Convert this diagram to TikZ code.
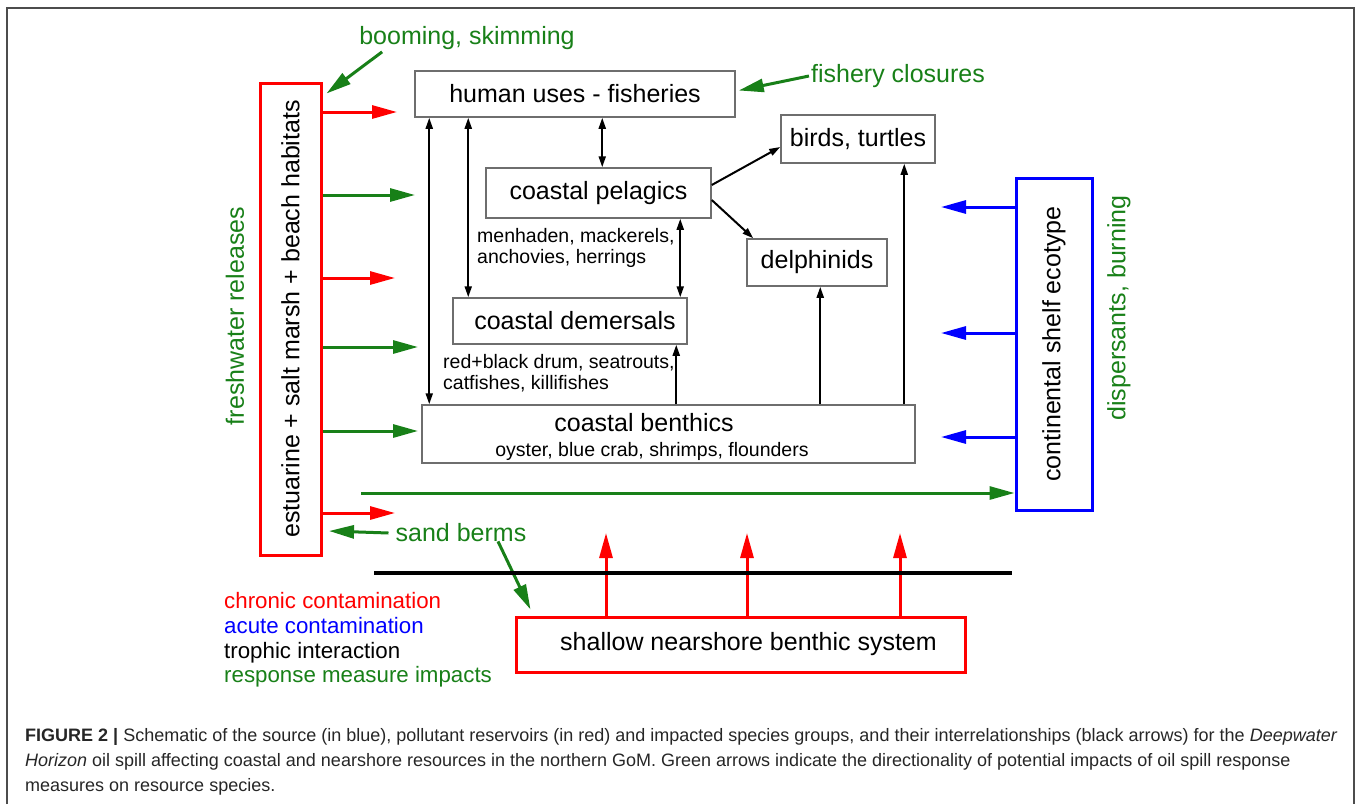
\documentclass[tikz,border=0pt]{standalone}
\usepackage{fontspec}
\setmainfont{Liberation Sans}
\usepackage{graphicx}
\usetikzlibrary{arrows.meta}

\definecolor{impactgreen}{RGB}{24,128,24}
\definecolor{boxgray}{RGB}{110,110,110}

\tikzset{
	>={Triangle[length=11pt,width=7pt]},
	bigfont/.style={font=\fontsize{25}{30}\selectfont},
	species/.style={draw=boxgray, line width=1.5pt, fill=white, inner sep=0pt, bigfont},
	reservoir/.style={draw=red, line width=3pt, inner sep=0pt, bigfont},
	sourcebox/.style={draw=blue, line width=3pt, inner sep=0pt, bigfont},
	spnote/.style={inner sep=0pt, align=left, font=\fontsize{19.5}{21}\selectfont},
	measure/.style={inner sep=2pt, text=impactgreen, bigfont},
	trophic/.style={line width=2pt},
	chronic/.style={draw=red, line width=3pt, -{Triangle[length=25pt,width=13pt]}},
	acute/.style={draw=blue, line width=3pt, -{Triangle[length=25pt,width=13pt]}},
	impact/.style={draw=impactgreen, line width=3pt, -{Triangle[length=25pt,width=13pt]}}
}

\begin{document}
\begin{tikzpicture}[x=1pt,y=-1pt]
		\useasboundingbox (0,0) rectangle (1358,804);
		\draw[black!70, line width=1.5pt] (7,804) |- (1354,8) -- (1354,804);

		% boxes
		\node[reservoir, minimum width=61pt, minimum height=472pt] (hab) at (290.5,319) {\rotatebox{90}{estuarine + salt marsh + beach habitats}};
		\node[sourcebox, minimum width=76pt, minimum height=332pt] (shelf) at (1054,344) {\rotatebox{90}{continental shelf ecotype}};
		\node[reservoir, minimum width=449pt, minimum height=55pt] (shallow) at (740.5,644.5) {\hspace{16pt}shallow nearshore benthic system};
		\node[species, minimum width=320pt, minimum height=46pt] (human) at (575,94) {human uses - fisheries};
		\node[species, minimum width=154pt, minimum height=48pt] (birds) at (858,139) {birds, turtles};
		\node[species, minimum width=225pt, minimum height=50pt] (pelagic) at (598.5,193) {coastal pelagics\hspace{12pt}};
		\node[species, minimum width=140pt, minimum height=47pt] (delph) at (817,262.5) {delphinids};
		\node[species, minimum width=234pt, minimum height=46pt] (demersal) at (570,321) {\hspace{10pt}coastal demersals};
		\node[species, minimum width=493pt, minimum height=58pt] (benthic) at (668.5,434) {};
		\node[bigfont, inner sep=0pt] (benthictitle) at (644,423) {coastal benthics};
		\node[spnote] (benthicsub) at (652,451) {oyster, blue crab, shrimps, flounders};

		\node[spnote, anchor=west] (pelagicnote) at (477,247.5) {menhaden, mackerels,\\anchovies, herrings};
		\node[spnote, anchor=west] (demersalnote) at (443,373.5) {red+black drum, seatrouts,\\catfishes, killifishes};

		% response measures
		\node[measure] (boom) at (467,38) {booming, skimming};
		\node[measure] (closures) at (898,76) {fishery closures};
		\node[measure, rotate=90] (fresh) at (235,316) {freshwater releases};
		\node[measure, rotate=90] (disp) at (1119,308) {dispersants, burning};
		\node[measure] (sand) at (461,533) {sand berms};

		\draw[impact] ([xshift=25pt]boom.south west) -- ([xshift=4pt,yshift=-12pt]hab.north east);
		\draw[impact] (closures.west) -- ([xshift=3pt,yshift=3.5pt]human.east);
		\coordinate (sandtip) at (329,531);
		\draw[impact] ([xshift=-5pt]sand.west) -- (sandtip);
		\draw[impact] ([xshift=37pt,yshift=3pt]sand.south) -- ([xshift=16pt,yshift=6pt]shallow.north west);

		% contamination from the reservoirs and the source
		\foreach \y/\tip [count=\i] in {112/397,278/395,513/395} {
			\coordinate (chr\i) at (\tip,\y);
			\draw[chronic] (hab.east |- chr\i) -- (chr\i);
		}
		\foreach \y/\tip [count=\i] in {195/415,347/418,431/418} {
			\coordinate (imp\i) at (\tip,\y);
			\draw[impact] (hab.east |- imp\i) -- (imp\i);
		}
		\coordinate (shelftail) at (361,493);
		\draw[impact] (shelftail) -- (shelf.west |- shelftail);
		\foreach \y [count=\i] in {207,333,437} {
			\coordinate (ac\i) at (941,\y);
			\draw[acute] (shelf.west |- ac\i) -- (ac\i);
		}
		\foreach \x [count=\i] in {606,747,900} {
			\coordinate (up\i) at (\x,533);
			\draw[chronic] (shallow.north -| up\i) -- (up\i);
		}
		\draw[line width=4pt] (374,573) -- (1012,573);

		% trophic interactions
		\draw[trophic, <->] ([xshift=15pt]human.south west) -- ([xshift=8pt]benthic.north west);
		\draw[trophic, <->] ([xshift=54pt]human.south west) -- ([xshift=16pt]demersal.north west);
		\draw[trophic, <->] ([xshift=188pt]human.south west) -- ([xshift=117pt]pelagic.north west);
		\draw[trophic, <->] ([xshift=195pt]pelagic.south west) -- ([xshift=228pt]demersal.north west);
		\draw[trophic, ->] ([xshift=255pt]benthic.north west) -- ([xshift=224pt]demersal.south west);
		\draw[trophic, ->] ([yshift=8pt]pelagic.east) -- ([yshift=-8pt]birds.west);
		\draw[trophic, ->] ([yshift=-7pt]pelagic.east) -- ([xshift=7pt]delph.north west);
		\draw[trophic, ->] ([xshift=399pt]benthic.north west) -- ([xshift=74pt]delph.south west);
		\draw[trophic, ->] ([xshift=483pt]benthic.north west) -- ([xshift=124pt]birds.south west);

		% legend
		\node[anchor=west, align=left, inner sep=0pt, font=\fontsize{22.3}{24.7}\selectfont] (legend) at (224,640)
			{\textcolor{red}{chronic contamination}\\\textcolor{blue}{acute contamination}\\trophic interaction\\\textcolor{impactgreen}{response measure impacts}};

		% caption
		\node[anchor=north west, align=left, inner sep=0pt, text=black!85, font=\fontsize{18}{25}\selectfont] (caption) at (25,728)
			{\textbf{FIGURE 2 |} Schematic of the source (in blue), pollutant reservoirs (in red) and impacted species groups, and their interrelationships (black arrows) for the \textit{Deepwater}\\
			\textit{Horizon} oil spill affecting coastal and nearshore resources in the northern GoM. Green arrows indicate the directionality of potential impacts of oil spill response\\
			measures on resource species.};
	\end{tikzpicture}
\end{document}
